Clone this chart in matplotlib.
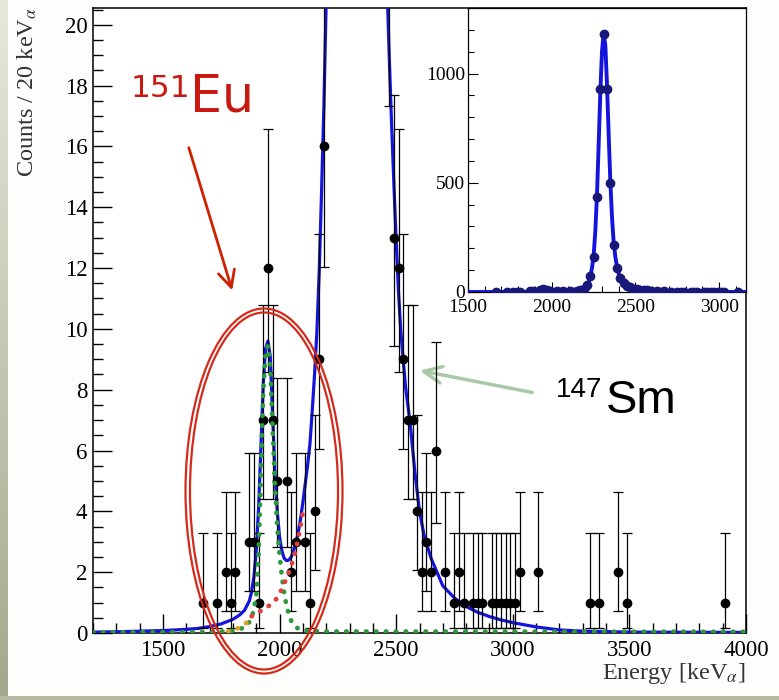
import matplotlib
matplotlib.use('Agg')
import matplotlib.pyplot as plt
import numpy as np
from matplotlib.patches import Ellipse
from matplotlib.ticker import MultipleLocator
from matplotlib.colors import LinearSegmentedColormap

plt.rcParams['font.family'] = ['Liberation Serif', 'DejaVu Serif']
plt.rcParams['mathtext.fontset'] = 'stix'

# histogram, 20 keV bins: bin centre [keV] and counts (empty bins not drawn)
energy = [1670, 1730, 1770, 1790, 1810, 1870, 1890, 1910, 1930, 1950,
          1970, 1990, 2030, 2050, 2070, 2110, 2130, 2150, 2170, 2190,
          2210, 2230, 2250, 2270, 2290, 2310, 2330, 2350, 2370, 2390,
          2410, 2430, 2450, 2470, 2490, 2510, 2530, 2550, 2570, 2590,
          2610, 2630, 2650, 2670, 2710, 2750, 2770, 2790, 2830, 2850,
          2870, 2910, 2930, 2950, 2970, 2990, 3010, 3030, 3110, 3330,
          3370, 3450, 3490, 3910]
counts = [1, 1, 2, 1, 2, 3, 3, 1, 7, 12,
          7, 5, 5, 2, 3, 3, 1, 4, 9, 16,
          30, 73, 159, 437, 930, 1180, 930, 499, 216, 111,
          63, 40, 28, 22, 13, 12, 9, 7, 7, 4,
          2, 3, 2, 6, 2, 1, 2, 1, 1, 1,
          1, 1, 1, 1, 1, 1, 1, 2, 2, 1,
          1, 2, 1, 1]

# Poisson 68% intervals (low, high) as drawn by ROOT
poisson_err = {1: (0.827, 2.299), 2: (1.292, 2.638), 3: (1.633, 2.918),
               4: (1.914, 3.162), 5: (2.159, 3.382), 6: (2.380, 3.583),
               7: (2.581, 3.770), 9: (2.943, 4.110), 12: (3.413, 4.559),
               13: (3.556, 4.697), 16: (3.957, 5.083), 22: (4.656, 5.762),
               28: (5.275, 6.351), 30: (5.465, 6.535)}

# total fit (blue)
fit_e = [1200, 1300, 1400, 1500, 1600, 1650, 1700, 1750, 1800, 1830,
         1850, 1870, 1880, 1890, 1900, 1910, 1920, 1930, 1940, 1950,
         1960, 1970, 1980, 1990, 2000, 2010, 2020, 2030, 2040, 2050,
         2060, 2070, 2080, 2090, 2100, 2110, 2120, 2130, 2140, 2150,
         2160, 2170, 2180, 2190, 2200, 2210, 2220, 2230, 2240, 2250,
         2260, 2270, 2280, 2290, 2300, 2310, 2320, 2330, 2340, 2350,
         2360, 2370, 2380, 2390, 2400, 2410, 2420, 2430, 2440, 2450,
         2460, 2470, 2480, 2490, 2500, 2510, 2520, 2540, 2560, 2580,
         2600, 2620, 2650, 2700, 2750, 2800, 2850, 2900, 2950, 3000,
         3100, 3200, 3300, 3500, 4000]
fit_y = [0.03, 0.04, 0.06, 0.08, 0.12, 0.15, 0.21, 0.3, 0.45, 0.6,
         0.75, 1.05, 1.35, 1.85, 2.7, 4.1, 6.1, 8.2, 9.35, 9.6,
         9.1, 7.2, 5.3, 4.0, 3.15, 2.7, 2.45, 2.38, 2.4, 2.5,
         2.7, 2.95, 3.3, 3.75, 4.3, 4.9, 5.5, 6.2, 7.3, 8.5,
         9.9, 11.9, 14.5, 17.3, 20.8, 27, 42, 70, 108, 165,
         275, 440, 670, 910, 1100, 1185, 1130, 950, 720, 505,
         340, 225, 160, 115, 85, 63, 47, 37, 29.5, 25,
         21.5, 19, 16.8, 14.8, 12.9, 11.2, 9.9, 8.1, 6.9, 5.3,
         4.0, 3.2, 2.45, 1.55, 1.15, 0.87, 0.68, 0.54, 0.43, 0.34,
         0.2, 0.1, 0.06, 0.03, 0.02]

# 151Eu component (green dotted)
eu_e = [1200, 1700, 1800, 1850, 1880, 1900, 1910, 1920, 1930, 1940,
        1950, 1960, 1970, 1980, 1990, 2000, 2010, 2020, 2030, 2040,
        2050, 2060, 2080, 2100, 2200, 4000]
eu_y = [0.02, 0.03, 0.07, 0.18, 0.45, 1.2, 2.6, 5.3, 7.9, 9.2,
        9.45, 8.7, 6.8, 4.9, 3.5, 2.55, 1.85, 1.3, 0.9, 0.6,
        0.4, 0.27, 0.14, 0.08, 0.05, 0.04]

# 147Sm low-energy tail (red dotted) and its lowest part (orange dotted)
sm_e = [1880, 1900, 1930, 1960, 1990, 2010, 2030, 2050, 2070, 2090, 2100]
sm_y = [0.55, 0.63, 0.78, 0.92, 1.15, 1.45, 1.8, 2.2, 2.75, 3.5, 4.0]
low_e = [1780, 1800, 1830, 1860, 1880]
low_y = [0.05, 0.1, 0.18, 0.35, 0.55]

W, H = 779, 700


def fx(px):
    return px / W


def fy(py):
    return 1 - py / H


fig = plt.figure(figsize=(W / 100, H / 100), dpi=100)
fig.patch.set_facecolor('#fdfdfc')

# greenish frame strips of the slide
strip = fig.add_axes([0, 0, 8 / W, 1])
cmap = LinearSegmentedColormap.from_list('strip', ['#e6e8da', '#a3a98c'])
strip.imshow(np.linspace(0, 1, 100).reshape(-1, 1), aspect='auto', cmap=cmap)
strip.axis('off')
bottom = fig.add_axes([0, 0, 1, 4 / H])
bottom.set_facecolor('#b6b8a2')
bottom.set_xticks([])
bottom.set_yticks([])
for s in bottom.spines.values():
    s.set_visible(False)

ax = fig.add_axes([fx(93), fy(633), (746 - 93) / W, (633 - 8) / H])
ax.set_facecolor('white')

blue = '#1414dc'
ax.plot(fit_e, fit_y, color=blue, lw=2.3, zorder=3)

main = [(e, c) for e, c in zip(energy, counts) if c in poisson_err]
me = [m[0] for m in main]
mc = [m[1] for m in main]
lo = [poisson_err[c][0] for c in mc]
hi = [poisson_err[c][1] for c in mc]
ax.errorbar(me, mc, yerr=[lo, hi], fmt='o', color='black', ms=6,
            elinewidth=0.9, capsize=3.5, capthick=0.9, zorder=4)

dots = dict(lw=3.4, dash_capstyle='round', linestyle=(0, (0.1, 2.0)), zorder=5)
ax.plot(eu_e, eu_y, color='#2a9a3a', **dots)
ax.plot(sm_e, sm_y, color='#e04040', **dots)
ax.plot(low_e, low_y, color='#e0a020', **dots)

ax.set_xlim(1200, 4000)
ax.set_ylim(0, 20.55)
ax.xaxis.set_major_locator(MultipleLocator(500))
ax.xaxis.set_minor_locator(MultipleLocator(100))
ax.yaxis.set_major_locator(MultipleLocator(2))
ax.yaxis.set_minor_locator(MultipleLocator(0.5))
ax.tick_params(which='both', direction='in', top=False, right=False,
               labelsize=16.5, width=1)
ax.tick_params(which='major', length=14)
ax.tick_params(which='minor', length=7)
ax.tick_params(axis='x', pad=5)
ax.tick_params(axis='y', pad=4)
for s in ax.spines.values():
    s.set_linewidth(1.1)

fig.text(fx(27), fy(7), 'Counts / 20 keV$_{\\alpha}$', rotation=90,
         ha='center', va='top', fontsize=17.5, color='#333333')
fig.text(fx(746), fy(661), 'Energy [keV$_{\\alpha}$]', ha='right', va='top',
         fontsize=17.5, color='#333333')

# inset with the full 147Sm peak
ins = fig.add_axes([fx(468), fy(292), (746 - 468) / W, (292 - 8) / H])
ins.set_facecolor('white')
ins.plot(fit_e, fit_y, color=blue, lw=2.8, zorder=3)
ins.plot(energy, counts, 'o', color='#18187a', ms=6, zorder=4)
ins.set_xlim(1500, 3160)
ins.set_ylim(0, 1300)
ins.xaxis.set_major_locator(MultipleLocator(500))
ins.xaxis.set_minor_locator(MultipleLocator(100))
ins.yaxis.set_major_locator(MultipleLocator(500))
ins.yaxis.set_minor_locator(MultipleLocator(100))
ins.tick_params(which='both', direction='in', top=False, right=False,
                labelsize=14, width=0.8)
ins.tick_params(axis='x', pad=5)
ins.tick_params(axis='y', pad=2)
ins.tick_params(which='major', length=7)
ins.tick_params(which='minor', length=4)
for s in ins.spines.values():
    s.set_linewidth(0.9)

# annotations
red = '#c81810'
fig.text(fx(131), fy(97), '151', color=red, fontsize=22.5,
         family='DejaVu Sans', va='baseline')
fig.text(fx(190), fy(112), 'Eu', color=red, fontsize=36.5,
         family='DejaVu Sans', va='baseline')
fig.text(fx(556), fy(397), '147', color='black', fontsize=20,
         family='Liberation Sans', va='baseline')
fig.text(fx(606), fy(413), 'Sm', color='black', fontsize=34,
         family='Liberation Sans', va='baseline')

ax.annotate('', xy=(233, H - 293), xycoords='figure pixels',
            xytext=(188, H - 145), textcoords='figure pixels',
            arrowprops=dict(arrowstyle='->,head_length=1.2,head_width=0.6',
                            color='#cc2200', lw=2), annotation_clip=False)
ax.annotate('', xy=(417, H - 370), xycoords='figure pixels',
            xytext=(535, H - 393), textcoords='figure pixels',
            arrowprops=dict(arrowstyle='->,head_length=1.3,head_width=0.6',
                            color='#a8c8a8', lw=2.5), annotation_clip=False)

for w, h in [(157, 365), (148, 357)]:
    fig.add_artist(Ellipse((fx(264), fy(491)), w / W, h / H,
                           transform=fig.transFigure, fill=False,
                           ec='#d42a1a', lw=1.6, zorder=10))

fig.savefig('out.png', dpi=100, facecolor=fig.get_facecolor())
